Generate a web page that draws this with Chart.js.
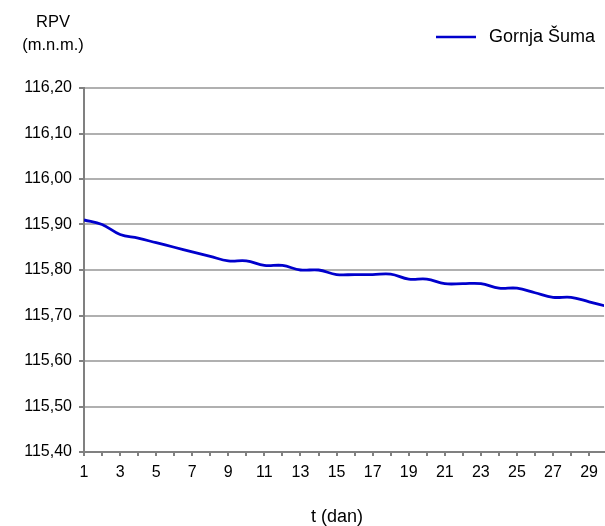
<!DOCTYPE html>
<html>
<head>
<meta charset="utf-8">
<script src="https://cdn.jsdelivr.net/npm/chart.js@4/dist/chart.umd.min.js"></script>
<style>
html,body{margin:0;padding:0;background:#fff;overflow:hidden;}
canvas{display:block;}
</style>
</head>
<body>
<canvas id="c" width="605" height="526"></canvas>
<script>
// Data
const days = [1,2,3,4,5,6,7,8,9,10,11,12,13,14,15,16,17,18,19,20,21,22,23,24,25,26,27,28,29,30];
const gornjaSuma = [115.91,115.90,115.878,115.87,115.86,115.85,115.84,115.83,115.82,115.82,
                    115.81,115.81,115.80,115.80,115.79,115.79,115.79,115.791,115.78,115.78,
                    115.77,115.77,115.77,115.76,115.76,115.75,115.74,115.74,115.73,115.72];
const seriesName = 'Gornja Šuma';
const yTitleLines = ['RPV', '(m.n.m.)'];
const xTitle = 't (dan)';
const yMin = 115.40, yMax = 116.20, yStep = 0.10;
const xMin = 1, xMax = 29.83;

const FONT = '"Liberation Sans", Arial, sans-serif';
const FS = 16;
const LINE_COLOR = '#0000CC';

const textPlugin = {
  id: 'texts',
  afterDraw(chart) {
    const ctx = chart.ctx;
    ctx.save();
    ctx.fillStyle = '#000';
    ctx.font = '16.5px ' + FONT;
    ctx.textAlign = 'center';
    ctx.textBaseline = 'middle';
    ctx.fillText(yTitleLines[0], 53, 22);
    ctx.fillText(yTitleLines[1], 53, 45);
    // x axis title
    ctx.font = '18px ' + FONT;
    ctx.fillText(xTitle, 337, 517);
    // legend
    const ds = chart.data.datasets[0];
    ctx.strokeStyle = ds.borderColor;
    ctx.lineWidth = 2.5;
    ctx.beginPath();
    ctx.moveTo(436, 37);
    ctx.lineTo(476, 37);
    ctx.stroke();
    ctx.textAlign = 'left';
    ctx.fillText(ds.label, 489, 37);
    ctx.restore();
  }
};

new Chart(document.getElementById('c'), {
  type: 'line',
  data: {
    datasets: [{
      label: seriesName,
      data: days.map((d, i) => ({x: d, y: gornjaSuma[i]})),
      borderColor: LINE_COLOR,
      backgroundColor: LINE_COLOR,
      borderWidth: 2.8,
      pointRadius: 0,
      tension: 0.4,
      cubicInterpolationMode: 'default'
    }]
  },
  options: {
    responsive: false,
    animation: false,
    devicePixelRatio: 1,
    layout: {padding: {top: 88, left: 0, right: 0, bottom: 0}},
    plugins: {legend: {display: false}, title: {display: false}, tooltip: {enabled: false}},
    scales: {
      x: {
        type: 'linear',
        min: xMin, max: xMax,
        afterBuildTicks(scale) {
          scale.ticks = days.filter(d => d <= 29).map(d => ({value: d}));
        },
        afterFit(scale) { scale.height = 74; },
        ticks: {
          autoSkip: false, maxRotation: 0, padding: 7,
          color: '#000', font: {family: FONT, size: FS},
          callback: v => (v % 2 === 1 ? String(v) : '')
        },
        grid: {drawOnChartArea: false, drawTicks: true, tickLength: 4, color: '#808080', lineWidth: 2},
        border: {display: true, color: '#808080', width: 2},
        title: {display: false}
      },
      y: {
        min: yMin, max: yMax,
        afterFit(scale) { scale.width = 84; },
        ticks: {
          stepSize: yStep, padding: 7, color: '#000', font: {family: FONT, size: FS},
          callback: v => v.toFixed(2).replace('.', ',')
        },
        grid: {color: '#b0b0b0', lineWidth: 2, tickLength: 5, tickColor: '#808080', tickWidth: 2},
        border: {display: true, color: '#808080', width: 2}
      }
    }
  },
  plugins: [textPlugin]
});
</script>
</body>
</html>
